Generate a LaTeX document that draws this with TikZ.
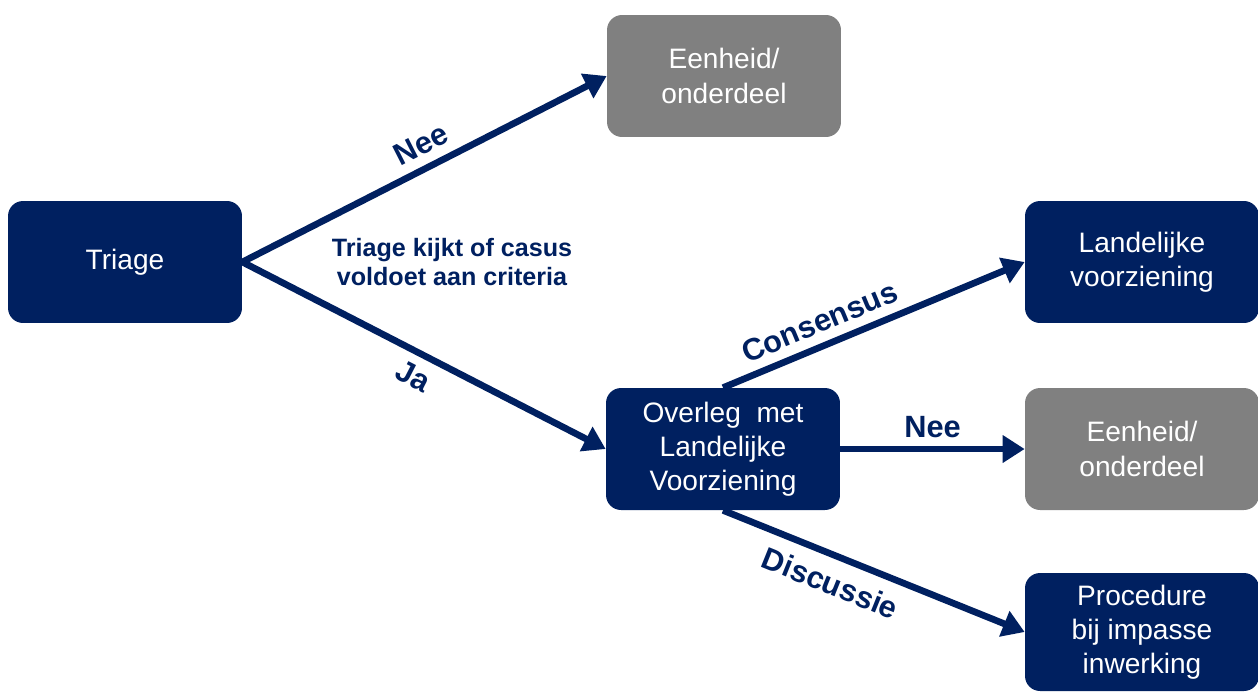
\documentclass[tikz,border=0pt]{standalone}
\usepackage{fontspec}
\setmainfont{Liberation Sans}
\usetikzlibrary{arrows.meta}
\definecolor{navy}{RGB}{0,32,96}
\definecolor{grijs}{RGB}{128,128,128}
\begin{document}
\begin{tikzpicture}[x=0.02cm,y=-0.02cm,
    box/.style={rounded corners=0.3cm, minimum width=4.68cm, minimum height=2.44cm,
      align=center, text=white, font=\fontsize{16}{19.5}\selectfont, inner sep=0pt},
    blauw/.style={box, fill=navy},
    grijsbox/.style={box, fill=grijs},
    pijl/.style={draw=navy, line width=3.8pt, -{Triangle[length=12.5pt,width=15pt]}},
    lbl/.style={text=navy, font=\fontsize{17.5}{20}\selectfont\bfseries}]
    \useasboundingbox (0,0) rectangle (1258,691);

    \node [blauw] (triage) at (125,262) {Triage};
    \node [grijsbox] (eenheidA) at (724,76) {Eenheid/\\onderdeel};
    \node [blauw] (overleg) at (723,449) {Overleg\ \ met\\Landelijke\\Voorziening};
    \node [blauw] (landelijk) at (1142,262) {Landelijke\\voorziening};
    \node [grijsbox] (eenheidB) at (1142,449) {Eenheid/\\onderdeel};
    \node [blauw, minimum height=2.36cm] (procedure) at (1142,632) {Procedure\\bij impasse\\inwerking};

    \node [text=navy, align=center, font=\fontsize{14.3}{17}\selectfont\bfseries] (criteria) at (452,262)
      {Triage kijkt of casus\\voldoet aan criteria};

    \draw [pijl] (triage.east) -- (eenheidA.west) node [lbl, pos=0.52, above=2pt, sloped] {Nee};
    \draw [pijl] (triage.east) -- (overleg.west) node [lbl, pos=0.5, below=2pt, sloped] {Ja};
    \draw [pijl] (overleg.north) -- (landelijk.west) node [lbl, pos=0.35, above=2pt, sloped] {Consensus};
    \draw [pijl] (overleg.east) -- (eenheidB.west) node [lbl, pos=0.5, above=1pt] {Nee};
    \draw [pijl] (overleg.south) -- (procedure.west) node [lbl, pos=0.39, below=4pt, sloped] {Discussie};
  \end{tikzpicture}
\end{document}
